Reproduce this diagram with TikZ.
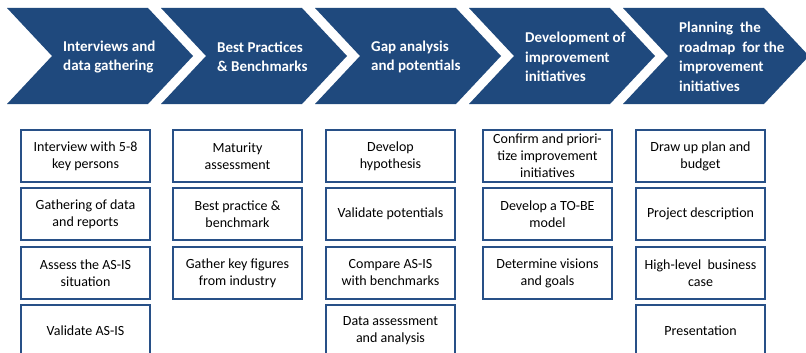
\documentclass[tikz,border=0pt]{standalone}
\usepackage{fontspec}
\setmainfont{Carlito}
\usepackage{tikz}

\definecolor{phaseblue}{RGB}{31,73,125}
\definecolor{boxblue}{RGB}{40,80,135}

\begin{document}
\begin{tikzpicture}[x=1pt,y=-1pt,
  phase/.style = {fill=phaseblue},
  phasetext/.style = {anchor=west, text=white, align=left, inner sep=0pt,
    font=\fontsize{15}{19.5}\selectfont\bfseries},
  task/.style = {draw=boxblue, line width=2.6pt, fill=white, align=center,
    minimum width=129pt, minimum height=52pt, inner sep=2pt,
    font=\fontsize{14}{17}\selectfont}]

\clip (0,0) rectangle (806,353);
\fill[white] (0,0) rectangle (806,353);

% phases
\fill[phase] (7,8) -- (148,8) -- (193,56) -- (148,104) -- (7,104) -- (52,56) -- cycle;
\fill[phase] (161,8) -- (302,8) -- (347,56) -- (302,104) -- (161,104) -- (206,56) -- cycle;
\fill[phase] (315,8) -- (456,8) -- (501,56) -- (456,104) -- (315,104) -- (360,56) -- cycle;
\fill[phase] (469,8) -- (610,8) -- (655,56) -- (610,104) -- (469,104) -- (514,56) -- cycle;
\fill[phase] (623,8) -- (764,8) -- (809,56) -- (764,104) -- (623,104) -- (668,56) -- cycle;

\node[phasetext] (interviews) at (63,57) {Interviews and\\data gathering};
\node[phasetext] (practices) at (217,57) {Best Practices\\\& Benchmarks};
\node[phasetext] (gap) at (371,57) {Gap analysis\\and potentials};
\node[phasetext] (development) at (525,57) {Development of\\improvement\\initiatives};
\node[phasetext] (planning) at (679,57) {Planning~ the\\roadmap~ for the\\improvement\\initiatives};

% tasks
\node[task] (interview) at (85.5,156) {Interview with 5-8\\key persons};
\node[task] (gathering) at (85.5,214) {Gathering of data\\and reports};
\node[task] (assess) at (85.5,273) {Assess the AS-IS\\situation};
\node[task] (validate) at (85.5,331) {Validate AS-IS};

\node[task] (maturity) at (237.5,156) {Maturity\\assessment};
\node[task] (bestpractice) at (237.5,214) {Best practice \&\\benchmark};
\node[task] (keyfigures) at (237.5,273) {Gather key figures\\from industry};

\node[task] (hypothesis) at (390.5,156) {Develop\\hypothesis};
\node[task] (potentials) at (390.5,214) {Validate potentials};
\node[task] (compare) at (390.5,273) {Compare AS-IS\\with benchmarks};
\node[task] (data) at (390.5,331) {Data assessment\\and analysis};

\node[task] (prioritize) at (547.5,156) {Confirm and priori-\\tize improvement\\initiatives};
\node[task] (tobe) at (547.5,214) {Develop a TO-BE\\model};
\node[task] (visions) at (547.5,273) {Determine visions\\and goals};

\node[task] (budget) at (700.5,156) {Draw up plan and\\budget};
\node[task] (project) at (700.5,214) {Project description};
\node[task] (business) at (700.5,273) {High-level~ business\\case};
\node[task] (presentation) at (700.5,331) {Presentation};

\end{tikzpicture}
\end{document}
